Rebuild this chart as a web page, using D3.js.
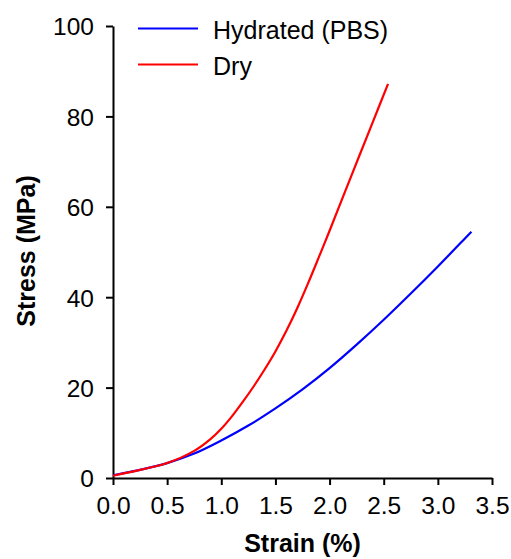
<!DOCTYPE html>
<html>
<head>
<meta charset="utf-8">
<script src="https://cdn.jsdelivr.net/npm/d3@7"></script>
<style>
  body { margin: 0; background: #fff; }
  text { font-family: Arial, "Liberation Sans", sans-serif; }
</style>
</head>
<body>
<script>
// data
var hydStrain = [0, 0.25, 0.5, 0.75, 1.0, 1.25, 1.5, 1.75, 2.0, 2.25, 2.5, 2.75, 3.0, 3.25, 3.31];
var hydStress = [0.6, 1.8, 3.3, 5.4, 8.3, 11.6, 15.4, 19.6, 24.3, 29.5, 35.0, 40.8, 46.8, 53.0, 54.5];
var dryStrain = [0, 0.25, 0.5, 0.75, 0.9, 1.0, 1.1, 1.2, 1.3, 1.4, 1.5, 1.6, 1.7, 1.8, 1.9, 2.0, 2.2, 2.4, 2.54];
var dryStress = [0.5, 1.8, 3.3, 6.0, 8.6, 10.9, 13.7, 16.9, 20.3, 24.0, 28.0, 32.5, 37.5, 43.0, 48.8, 54.7, 66.8, 78.8, 87.2];
var xTicks = [0, 0.5, 1.0, 1.5, 2.0, 2.5, 3.0, 3.5];
var yTicks = [0, 20, 40, 60, 80, 100];
var seriesNames = ['Hydrated (PBS)', 'Dry'];
var seriesColors = ['#0000ff', '#ff0000'];

var W = 511, H = 559;
var svg = d3.select('body').append('svg').attr('width', W).attr('height', H);

var x = d3.scaleLinear().domain([0, 3.5]).range([113, 492]);
var y = d3.scaleLinear().domain([0, 100]).range([478, 26]);

var xAxis = svg.append('g')
	.attr('transform', 'translate(0,' + y(0) + ')')
	.call(d3.axisBottom(x).tickValues(xTicks).tickFormat(d3.format('.1f')).tickSize(7).tickSizeOuter(0).tickPadding(12));
var yAxis = svg.append('g')
	.attr('transform', 'translate(' + x(0) + ',0)')
	.call(d3.axisLeft(y).tickValues(yTicks).tickFormat(d3.format('d')).tickSize(7).tickSizeOuter(0).tickPadding(12));

[xAxis, yAxis].forEach(function(g){
	g.selectAll('path, line').attr('stroke', '#000').attr('stroke-width', 2);
	g.selectAll('text').attr('fill', '#000').style('font-size', '24.5px').style('font-family', 'Arial, "Liberation Sans", sans-serif');
});
yAxis.selectAll('text').attr('dy', '0.36em');

var line = d3.line()
	.x(function(d){ return x(d[0]); })
	.y(function(d){ return y(d[1]); })
	.curve(d3.curveCatmullRom);

var series = [d3.zip(hydStrain, hydStress), d3.zip(dryStrain, dryStress)];
series.forEach(function(pts, i){
	svg.append('path')
		.attr('d', line(pts))
		.attr('fill', 'none')
		.attr('stroke', seriesColors[i])
		.attr('stroke-width', 2.2)
		.attr('stroke-linejoin', 'round');
});

// legend
var legY = [28.5, 64.5];
seriesNames.forEach(function(name, i){
	svg.append('line')
		.attr('x1', 138).attr('x2', 198)
		.attr('y1', legY[i]).attr('y2', legY[i])
		.attr('stroke', seriesColors[i]).attr('stroke-width', 2.2);
	svg.append('text')
		.attr('x', 213).attr('y', legY[i] + 10)
		.style('font-size', '25px')
		.text(name);
});

// axis titles
svg.append('text')
	.attr('x', (x(0) + x(3.5)) / 2).attr('y', 552)
	.attr('text-anchor', 'middle')
	.style('font-size', '25px').style('font-weight', 'bold')
	.text('Strain (%)');
svg.append('text')
	.attr('transform', 'translate(35,251) rotate(-90)')
	.attr('text-anchor', 'middle')
	.style('font-size', '25px').style('font-weight', 'bold')
	.text('Stress (MPa)');
</script>
</body>
</html>
